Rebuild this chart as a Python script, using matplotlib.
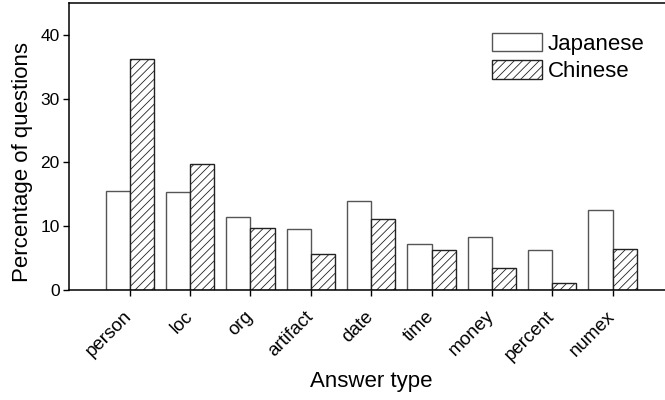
import matplotlib
matplotlib.use("Agg")
import matplotlib.pyplot as plt
import matplotlib.transforms as mtransforms
import numpy as np

categories = ["person", "loc", "org", "artifact", "date", "time", "money", "percent", "numex"]
japanese = [15.5, 15.3, 11.5, 9.5, 14.0, 7.2, 8.3, 6.3, 12.5]
chinese = [36.2, 19.7, 9.7, 5.7, 11.1, 6.3, 3.4, 1.15, 6.5]
yticks = [0, 10, 20, 30, 40]

plt.rcParams['font.family'] = ['Liberation Sans', 'DejaVu Sans']
plt.rcParams['hatch.linewidth'] = 0.6

fig = plt.figure(figsize=(6.65, 4.0), dpi=100)
ax = fig.add_axes([69.3/665, 110/400, (673-69.3)/665, (290-3)/400])

x = np.arange(1, len(categories) + 1)
w = 0.4
ax.bar(x - w/2, japanese, width=w, color='white', edgecolor='#555555', linewidth=1.0, label='Japanese')
ax.bar(x + w/2, chinese, width=w, color='white', edgecolor='#222222', linewidth=1.0, hatch='////', label='Chinese')

ax.set_xlim(0, 10)
ax.set_ylim(0, 45)
ax.set_yticks(yticks)
ax.set_xticks(x)
ax.set_xticklabels(categories, rotation=45, ha='right', va='center', rotation_mode='anchor', fontsize=13.5)
offset = mtransforms.ScaledTranslation(3/72, 0, fig.dpi_scale_trans)
for lab in ax.get_xticklabels():
    lab.set_transform(lab.get_transform() + offset)
ax.tick_params(axis='y', direction='out', length=4.5, width=1, labelsize=12.5, pad=2.5)
ax.tick_params(axis='x', direction='out', length=4, width=1, pad=13)
ax.spines['right'].set_visible(False)
for s in ['left', 'bottom', 'top']:
    ax.spines[s].set_linewidth(1.1)

ax.set_ylabel('Percentage of questions', fontsize=16)
ax.yaxis.set_label_coords(-0.06, 0.446)
ax.set_xlabel('Answer type', fontsize=16, labelpad=5)

leg = fig.legend(*ax.get_legend_handles_labels(), loc='upper left', bbox_to_anchor=(492/665, 1 - 33/400),
                 frameon=False, fontsize=16, borderpad=0, borderaxespad=0,
                 handlelength=2.25, handleheight=0.9, handletextpad=0.25, labelspacing=0.25)

fig.savefig('out.png', dpi=100)
